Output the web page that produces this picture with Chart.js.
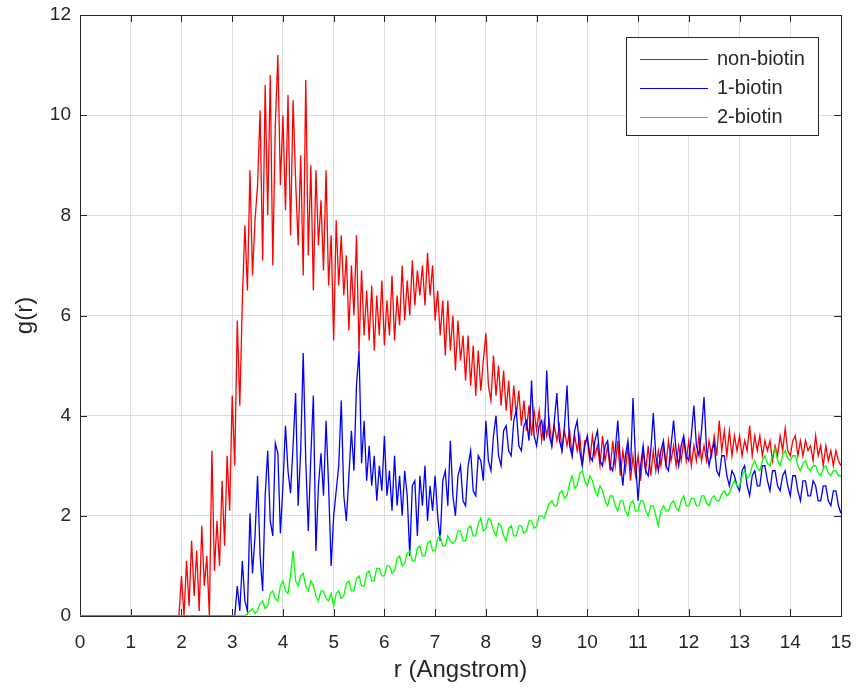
<!DOCTYPE html>
<html>
<head>
<meta charset="utf-8">
<script src="https://cdn.jsdelivr.net/npm/chart.js@4.4.1/dist/chart.umd.min.js"></script>
<style>
  body { margin: 0; background: #fff; }
  #wrap { width: 857px; height: 693px; }
</style>
</head>
<body>
<div id="wrap"><canvas id="rdfChart" width="857" height="693"></canvas></div>
<script>
// r grid (Angstrom) shared by all curves, one row per unit
const r = [
  0, 0.05, 0.1, 0.15, 0.2, 0.25, 0.3, 0.35, 0.4, 0.45, 0.5, 0.55, 0.6, 0.65, 0.7, 0.75, 0.8, 0.85, 0.9, 0.95,
  1, 1.05, 1.1, 1.15, 1.2, 1.25, 1.3, 1.35, 1.4, 1.45, 1.5, 1.55, 1.6, 1.65, 1.7, 1.75, 1.8, 1.85, 1.9, 1.95,
  2, 2.05, 2.1, 2.15, 2.2, 2.25, 2.3, 2.35, 2.4, 2.45, 2.5, 2.55, 2.6, 2.65, 2.7, 2.75, 2.8, 2.85, 2.9, 2.95,
  3, 3.05, 3.1, 3.15, 3.2, 3.25, 3.3, 3.35, 3.4, 3.45, 3.5, 3.55, 3.6, 3.65, 3.7, 3.75, 3.8, 3.85, 3.9, 3.95,
  4, 4.05, 4.1, 4.15, 4.2, 4.25, 4.3, 4.35, 4.4, 4.45, 4.5, 4.55, 4.6, 4.65, 4.7, 4.75, 4.8, 4.85, 4.9, 4.95,
  5, 5.05, 5.1, 5.15, 5.2, 5.25, 5.3, 5.35, 5.4, 5.45, 5.5, 5.55, 5.6, 5.65, 5.7, 5.75, 5.8, 5.85, 5.9, 5.95,
  6, 6.05, 6.1, 6.15, 6.2, 6.25, 6.3, 6.35, 6.4, 6.45, 6.5, 6.55, 6.6, 6.65, 6.7, 6.75, 6.8, 6.85, 6.9, 6.95,
  7, 7.05, 7.1, 7.15, 7.2, 7.25, 7.3, 7.35, 7.4, 7.45, 7.5, 7.55, 7.6, 7.65, 7.7, 7.75, 7.8, 7.85, 7.9, 7.95,
  8, 8.05, 8.1, 8.15, 8.2, 8.25, 8.3, 8.35, 8.4, 8.45, 8.5, 8.55, 8.6, 8.65, 8.7, 8.75, 8.8, 8.85, 8.9, 8.95,
  9, 9.05, 9.1, 9.15, 9.2, 9.25, 9.3, 9.35, 9.4, 9.45, 9.5, 9.55, 9.6, 9.65, 9.7, 9.75, 9.8, 9.85, 9.9, 9.95,
  10, 10.05, 10.1, 10.15, 10.2, 10.25, 10.3, 10.35, 10.4, 10.45, 10.5, 10.55, 10.6, 10.65, 10.7, 10.75, 10.8, 10.85, 10.9, 10.95,
  11, 11.05, 11.1, 11.15, 11.2, 11.25, 11.3, 11.35, 11.4, 11.45, 11.5, 11.55, 11.6, 11.65, 11.7, 11.75, 11.8, 11.85, 11.9, 11.95,
  12, 12.05, 12.1, 12.15, 12.2, 12.25, 12.3, 12.35, 12.4, 12.45, 12.5, 12.55, 12.6, 12.65, 12.7, 12.75, 12.8, 12.85, 12.9, 12.95,
  13, 13.05, 13.1, 13.15, 13.2, 13.25, 13.3, 13.35, 13.4, 13.45, 13.5, 13.55, 13.6, 13.65, 13.7, 13.75, 13.8, 13.85, 13.9, 13.95,
  14, 14.05, 14.1, 14.15, 14.2, 14.25, 14.3, 14.35, 14.4, 14.45, 14.5, 14.55, 14.6, 14.65, 14.7, 14.75, 14.8, 14.85, 14.9, 14.95,
  15
];

// g(r) values
const nonBiotin = [
  0, 0, 0, 0, 0, 0, 0, 0, 0, 0, 0, 0, 0, 0, 0, 0, 0, 0, 0, 0,
  0, 0, 0, 0, 0, 0, 0, 0, 0, 0, 0, 0, 0, 0, 0, 0, 0, 0, 0, 0,
  0.8, 0, 1.1, 0.2, 1.5, 0.4, 1.3, 0.1, 1.8, 0.6, 1.2, 0, 3.3, 0.9, 1.9, 1.0, 2.7, 1.4, 3.2, 2.1,
  4.4, 3.0, 5.9, 4.2, 6.3, 7.8, 6.5, 8.9, 6.8, 7.9, 8.6, 10.1, 7.1, 10.6, 8.0, 10.8, 7.0, 9.8, 11.2, 8.6,
  10.0, 8.1, 10.4, 7.6, 10.3, 8.7, 7.4, 9.2, 6.8, 10.7, 7.2, 9.0, 6.5, 8.9, 7.4, 8.3, 6.9, 8.9, 6.6, 7.6,
  5.5, 7.9, 6.6, 7.6, 6.4, 7.2, 5.7, 7.0, 6.0, 7.6, 5.3, 6.9, 5.6, 6.5, 5.5, 6.6, 5.3, 6.4, 5.6, 6.7,
  5.4, 6.3, 5.6, 6.8, 5.5, 6.4, 5.8, 7.0, 5.9, 6.7, 6.0, 7.1, 6.2, 6.9, 6.4, 7.0, 6.2, 7.25, 6.4, 7.0,
  5.9, 6.5, 5.6, 6.3, 5.2, 6.3, 5.3, 6.0, 4.9, 5.9, 5.1, 5.6, 4.7, 5.6, 4.6, 5.4, 4.4, 5.3, 4.5, 5.1,
  5.65, 4.6, 4.3, 5.2, 4.4, 5.0, 4.2, 4.9, 4.1, 4.7, 3.9, 4.6, 4.0, 4.5, 3.8, 4.3, 3.7, 4.2, 3.6, 4.1,
  3.7, 4.1, 3.5, 3.9, 3.6, 3.9, 3.4, 3.8, 3.5, 3.8, 3.3, 3.7, 3.4, 3.7, 3.2, 3.6, 3.3, 3.6, 3.0, 3.5,
  3.5, 3.1, 3.6, 3.2, 3.4, 3.0, 3.6, 3.1, 3.4, 2.9, 3.5, 3.0, 3.5, 2.8, 3.3, 2.9, 3.4, 2.7, 3.2, 2.8,
  3.2, 2.7, 3.3, 2.9, 3.4, 2.8, 3.3, 2.9, 3.3, 3.0, 3.4, 3.0, 3.5, 3.1, 3.4, 3.0, 3.4, 3.1, 3.5, 3.1,
  3.5, 3.0, 3.4, 3.1, 3.6, 3.1, 3.4, 3.1, 3.5, 3.2, 3.6, 3.2, 3.9, 3.3, 3.7, 3.2, 3.7, 3.2, 3.6, 3.3,
  3.6, 3.2, 3.5, 3.3, 3.8, 3.2, 3.6, 3.3, 3.6, 3.2, 3.5, 3.3, 3.5, 3.1, 3.4, 3.2, 3.6, 3.3, 3.75, 3.3,
  3.2, 3.5, 3.6, 3.2, 3.5, 3.2, 3.5, 3.3, 3.4, 3.1, 3.6, 3.2, 3.4, 3.0, 3.4, 3.1, 3.3, 3.0, 3.3, 3.1,
  3.0
];

const oneBiotin = [
  0, 0, 0, 0, 0, 0, 0, 0, 0, 0, 0, 0, 0, 0, 0, 0, 0, 0, 0, 0,
  0, 0, 0, 0, 0, 0, 0, 0, 0, 0, 0, 0, 0, 0, 0, 0, 0, 0, 0, 0,
  0, 0, 0, 0, 0, 0, 0, 0, 0, 0, 0, 0, 0, 0, 0, 0, 0, 0, 0, 0,
  0, 0, 0.6, 0.1, 1.1, 0.3, 0.1, 2.05, 0.85, 1.6, 2.8, 1.2, 0.5, 2.4, 3.3, 1.9, 1.6, 3.45, 3.25, 1.65,
  2.6, 3.8, 2.9, 2.45, 3.4, 4.45, 2.2, 3.3, 5.25, 3.1, 1.7, 3.2, 4.4, 1.3, 2.6, 3.25, 2.4, 3.9, 2.6, 1.0,
  2.0, 2.5, 3.0, 4.3, 2.4, 1.9, 2.8, 3.7, 2.9, 4.6, 5.3, 3.05, 3.9, 2.7, 3.4, 2.6, 3.2, 2.3, 3.0, 2.5,
  3.6, 2.4, 2.9, 2.1, 3.2, 2.2, 2.8, 2.0, 2.9, 2.4, 1.2, 2.6, 2.7, 1.6, 2.8, 2.2, 3.0, 1.9, 2.6, 2.1,
  2.8, 2.0, 1.5, 2.7, 2.9, 2.2, 3.5, 2.4, 2.0, 2.8, 3.0, 2.3, 2.2, 3.0, 3.3, 2.5, 2.4, 3.2, 3.1, 2.7,
  3.9, 3.1, 2.9, 3.6, 4.0, 3.2, 3.0, 3.7, 3.8, 3.3, 3.2, 3.9, 4.1, 3.4, 3.3, 3.8, 3.9, 3.5, 4.7, 3.6,
  3.4, 3.8, 3.9, 3.5, 4.9, 3.6, 3.4, 3.9, 4.45, 3.5, 3.3, 3.8, 4.6, 3.4, 3.2, 3.7, 3.9, 3.3, 3.0, 3.4,
  3.6, 3.2, 3.1, 3.5, 3.7, 3.1, 3.0, 3.4, 3.5, 3.0, 2.9, 3.3, 3.9, 3.1, 2.6, 3.2, 3.5, 2.9, 4.35, 3.1,
  2.3, 3.0, 3.4, 2.9, 2.8, 3.3, 4.05, 3.2, 2.9, 3.3, 3.5, 3.0, 2.9, 3.4, 3.9, 3.3, 3.0, 3.4, 3.6, 3.2,
  3.1, 3.6, 4.2, 3.4, 3.2, 3.7, 4.37, 3.3, 3.0, 3.3, 3.45, 2.9, 2.8, 3.2, 3.2, 2.8, 2.6, 2.9, 2.8, 2.6,
  2.5, 2.9, 3.0, 2.6, 2.4, 2.8, 2.9, 2.6, 2.6, 3.0, 3.0, 2.7, 2.5, 2.9, 2.9, 2.6, 2.5, 2.8, 2.9, 2.6,
  2.4, 2.8, 2.8, 2.5, 2.3, 2.7, 2.7, 2.4, 2.4, 2.7, 2.6, 2.3, 2.3, 2.6, 2.6, 2.3, 2.2, 2.5, 2.5, 2.2,
  2.05
];

const twoBiotin = [
  0, 0, 0, 0, 0, 0, 0, 0, 0, 0, 0, 0, 0, 0, 0, 0, 0, 0, 0, 0,
  0, 0, 0, 0, 0, 0, 0, 0, 0, 0, 0, 0, 0, 0, 0, 0, 0, 0, 0, 0,
  0, 0, 0, 0, 0, 0, 0, 0, 0, 0, 0, 0, 0, 0, 0, 0, 0, 0, 0, 0,
  0, 0, 0, 0, 0, 0, 0.05, 0.1, 0.15, 0.05, 0.1, 0.25, 0.3, 0.15, 0.2, 0.45, 0.5, 0.35, 0.3, 0.6,
  0.7, 0.5, 0.45, 0.8, 1.3, 0.7, 0.6, 0.8, 0.85, 0.6, 0.5, 0.7, 0.6, 0.4, 0.3, 0.5, 0.5, 0.35, 0.3, 0.45,
  0.2, 0.45, 0.5, 0.35, 0.4, 0.65, 0.7, 0.5, 0.5, 0.75, 0.8, 0.6, 0.6, 0.85, 0.9, 0.7, 0.7, 0.95, 0.95, 0.8,
  0.8, 1.0, 1.0, 0.85, 0.9, 1.15, 1.2, 1.0, 1.05, 1.25, 1.3, 1.1, 1.1, 1.35, 1.4, 1.2, 1.2, 1.45, 1.5, 1.3,
  1.3, 1.55, 1.6, 1.4, 1.4, 1.6, 1.5, 1.45, 1.5, 1.7, 1.7, 1.5, 1.5, 1.75, 1.8, 1.6, 1.6, 1.85, 1.95, 1.7,
  1.75, 1.95, 1.9, 1.7, 1.6, 1.85, 1.8, 1.6, 1.5, 1.75, 1.8, 1.6, 1.6, 1.8, 1.8, 1.65, 1.7, 1.9, 1.9, 1.75,
  1.8, 2.0, 2.0, 1.95, 2.1, 2.25, 2.3, 2.2, 2.2, 2.45, 2.5, 2.35, 2.4, 2.65, 2.8, 2.55, 2.6, 2.85, 2.9, 2.7,
  2.6, 2.8, 2.7, 2.5, 2.4, 2.6, 2.5, 2.3, 2.2, 2.4, 2.4, 2.2, 2.1, 2.3, 2.3, 2.1, 2.0, 2.25, 2.3, 2.1,
  2.1, 2.3, 2.3, 2.1, 2.0, 2.2, 2.2, 2.0, 1.8, 2.1, 2.2, 2.1, 2.1, 2.25, 2.3, 2.15, 2.1, 2.3, 2.4, 2.2,
  2.2, 2.35, 2.35, 2.2, 2.2, 2.4, 2.4, 2.25, 2.2, 2.35, 2.4, 2.3, 2.3, 2.45, 2.5, 2.4, 2.45, 2.6, 2.7, 2.6,
  2.6, 2.8, 2.9, 2.75, 2.8, 3.0, 3.1, 2.95, 2.9, 3.1, 3.2, 3.05, 3.0, 3.2, 3.35, 3.1, 3.0, 3.2, 3.3, 3.15,
  3.1, 3.2, 3.2, 3.0, 2.9, 3.05, 3.1, 2.95, 2.9, 3.0, 3.0, 2.85, 2.8, 2.95, 3.0, 2.85, 2.8, 2.9, 2.9, 2.8,
  2.8
];

const seriesNames = ['non-biotin', '1-biotin', '2-biotin'];
const seriesColors = ['#ff0000', '#0000ff', '#00ff00'];

const FONT = '"Liberation Sans", Arial, Helvetica, sans-serif';
const INK = '#262626';

function toPoints(vals) {
  return vals.map((v, i) => ({ x: r[i], y: v }));
}

// MATLAB style box with inward ticks on all four sides
const axesBox = {
  id: 'axesBox',
  beforeDatasetsDraw(chart) {
    const { ctx, chartArea: a, scales } = chart;
    const tl = 7;
    ctx.save();
    ctx.strokeStyle = INK;
    ctx.lineWidth = 1;
    ctx.beginPath();
    scales.x.ticks.forEach(t => {
      const px = Math.round(scales.x.getPixelForValue(t.value)) + 0.5;
      ctx.moveTo(px, a.bottom);
      ctx.lineTo(px, a.bottom - tl);
      ctx.moveTo(px, a.top);
      ctx.lineTo(px, a.top + tl);
    });
    scales.y.ticks.forEach(t => {
      const py = Math.round(scales.y.getPixelForValue(t.value)) + 0.5;
      ctx.moveTo(a.left, py);
      ctx.lineTo(a.left + tl, py);
      ctx.moveTo(a.right, py);
      ctx.lineTo(a.right - tl, py);
    });
    ctx.stroke();
    ctx.strokeRect(Math.round(a.left) + 0.5, Math.round(a.top) + 0.5,
      Math.round(a.right - a.left), Math.round(a.bottom - a.top));
    ctx.restore();
  }
};

// legend box in the upper right corner of the axes
const legendBox = {
  id: 'legendBox',
  afterDatasetsDraw(chart) {
    const { ctx, chartArea: a } = chart;
    const bx = a.right - 215, by = a.top + 22, bw = 192, bh = 98;
    ctx.save();
    ctx.fillStyle = '#ffffff';
    ctx.fillRect(bx, by, bw, bh);
    ctx.strokeStyle = INK;
    ctx.lineWidth = 1;
    ctx.strokeRect(Math.round(bx) + 0.5, Math.round(by) + 0.5, bw, bh);
    ctx.font = '20px ' + FONT;
    ctx.textBaseline = 'middle';
    chart.data.datasets.forEach((ds, i) => {
      const yy = Math.round(by + 22 + i * 29) + 0.5;
      ctx.strokeStyle = ds.borderColor;
      ctx.lineWidth = 1.2;
      ctx.beginPath();
      ctx.moveTo(bx + 14, yy);
      ctx.lineTo(bx + 82, yy);
      ctx.stroke();
      ctx.fillStyle = INK;
      ctx.fillText(ds.label, bx + 91, yy);
    });
    ctx.restore();
  }
};

const ctx = document.getElementById('rdfChart').getContext('2d');
const rdfChart = new Chart(ctx, {
  type: 'line',
  data: {
    datasets: [nonBiotin, oneBiotin, twoBiotin].map((vals, i) => ({
      label: seriesNames[i],
      data: toPoints(vals),
      borderColor: seriesColors[i],
      backgroundColor: seriesColors[i],
      borderWidth: 1.3,
      pointRadius: 0,
      tension: 0,
      fill: false,
      order: 3 - i // later series drawn on top, like MATLAB
    }))
  },
  options: {
    responsive: false,
    animation: false,
    layout: { padding: { left: 0, top: 15, right: 16, bottom: 0 } },
    plugins: {
      legend: { display: false },
      tooltip: { enabled: false }
    },
    scales: {
      x: {
        type: 'linear',
        min: 0,
        max: 15,
        afterFit(scale) {
          scale.height = 77;
          scale.paddingLeft = 0;
          scale.paddingRight = 0;
        },
        ticks: { stepSize: 1, color: INK, font: { family: FONT, size: 19 }, padding: 15, maxRotation: 0 },
        grid: { color: '#dedede', lineWidth: 1, drawTicks: false },
        border: { display: false },
        title: { display: true, text: 'r (Angstrom)', color: INK, font: { family: FONT, size: 24 }, padding: { top: 0, bottom: 8 } }
      },
      y: {
        min: 0,
        max: 12,
        afterFit(scale) {
          scale.width = 80;
          scale.paddingTop = 0;
          scale.paddingBottom = 0;
        },
        ticks: { stepSize: 2, color: INK, font: { family: FONT, size: 19 }, padding: 9 },
        grid: { color: '#dedede', lineWidth: 1, drawTicks: false },
        border: { display: false },
        title: { display: true, text: 'g(r)', color: INK, font: { family: FONT, size: 24 }, padding: { top: 11, bottom: 0 } }
      }
    }
  },
  plugins: [axesBox, legendBox]
});
</script>
</body>
</html>
